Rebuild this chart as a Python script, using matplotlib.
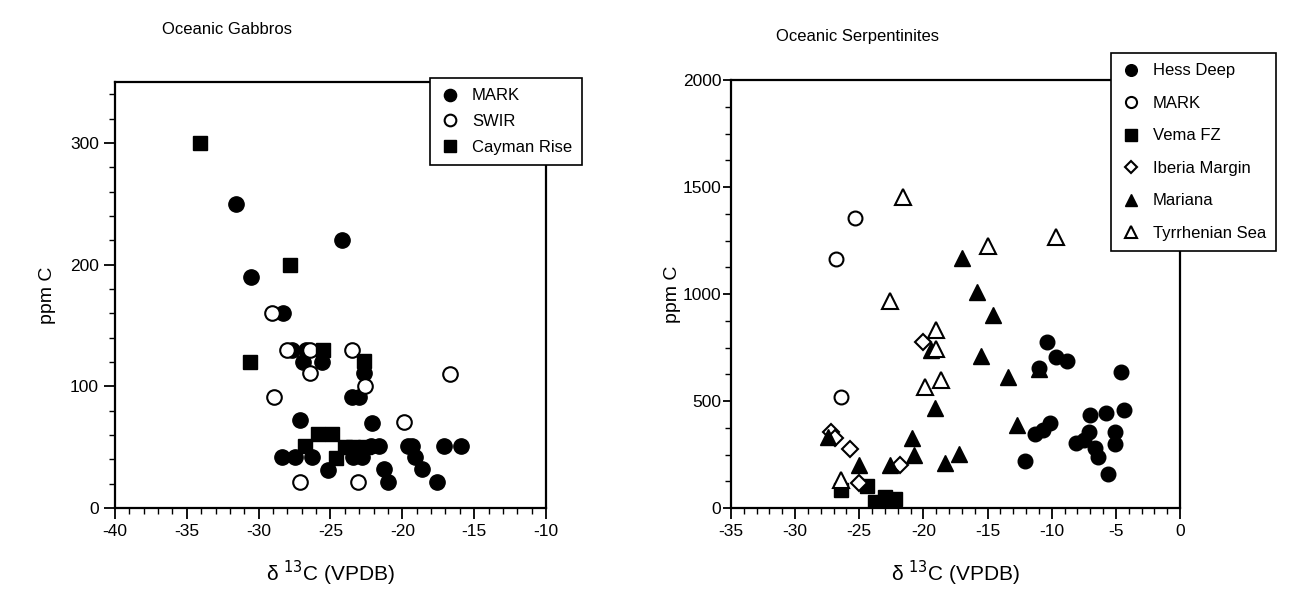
import matplotlib
matplotlib.use("Agg")
import matplotlib.pyplot as plt
from matplotlib.ticker import MultipleLocator

plt.rcParams.update({
    "font.family": ["Liberation Sans", "DejaVu Sans"],
    "font.size": 11,
    "axes.unicode_minus": False,
})

# ---- Oceanic gabbros (d13C, ppm C) ----
gab_mark_x = [-31.6, -30.5, -28.3, -24.2, -27.7, -26.7, -26.9, -25.6, -22.7, -23.5, -23.0,
              -27.1, -22.1, -28.4, -27.5, -26.3, -23.4, -22.8, -25.2, -22.2, -21.6, -19.6,
              -19.3, -17.1, -15.9, -19.1, -18.6, -21.3, -21.0, -17.6]
gab_mark_y = [250, 190, 160, 220, 130, 130, 120, 120, 111, 91, 91,
              72, 70, 42, 42, 42, 42, 42, 31, 51, 51, 51,
              51, 51, 51, 42, 32, 32, 21, 21]
gab_swir_x = [-29.1, -28.0, -26.4, -23.5, -26.4, -22.6, -28.9, -16.7, -19.9, -27.1, -23.1]
gab_swir_y = [160, 130, 130, 130, 111, 100, 91, 110, 71, 21, 21]
gab_cay_x = [-34.1, -27.8, -30.6, -25.5, -22.7, -25.9, -24.9, -26.8, -24.6, -24.0, -23.4, -22.6]
gab_cay_y = [300, 200, 120, 130, 121, 61, 61, 51, 41, 50, 50, 50]

# ---- Oceanic serpentinites ----
ser_hess_x = [-10.4, -9.7, -8.8, -11.0, -4.6, -4.4, -5.8, -7.0, -10.1, -10.7, -11.3, -7.1,
              -5.1, -8.1, -7.5, -6.6, -6.4, -5.1, -12.1, -5.6]
ser_hess_y = [775, 707, 687, 655, 637, 458, 445, 435, 396, 364, 346, 357,
              357, 302, 320, 280, 240, 298, 221, 159]
ser_mark_x = [-25.3, -26.8, -26.4]
ser_mark_y = [1355, 1165, 520]
ser_vema_x = [-26.4, -24.4, -23.8, -23.0, -22.7, -22.2]
ser_vema_y = [85, 105, 30, 50, 30, 40]
ser_iber_x = [-27.2, -26.9, -25.7, -25.0, -21.8, -20.0]
ser_iber_y = [357, 326, 276, 115, 201, 777]
ser_mar_x = [-27.4, -25.0, -22.6, -20.9, -20.7, -19.1, -19.4, -17.0, -15.8, -14.6, -15.5,
             -13.4, -12.7, -11.0, -17.2, -18.3]
ser_mar_y = [333, 201, 201, 326, 248, 466, 738, 1167, 1011, 902, 710,
             614, 388, 650, 252, 209]
ser_tyr_x = [-21.6, -22.6, -15.0, -9.7, -19.0, -19.0, -19.9, -18.6, -26.4]
ser_tyr_y = [1455, 968, 1224, 1268, 832, 743, 564, 598, 130]

W, H = 1292, 601
fig = plt.figure(figsize=(W / 100, H / 100), dpi=100)


def box(l, r, t, b):
    return [l / W, 1 - b / H, (r - l) / W, (b - t) / H]


ax1 = fig.add_axes(box(115, 546, 82, 508))
ax2 = fig.add_axes(box(731, 1180, 80, 508))

filled = dict(ls="none", mfc="black", mec="black", mew=1.0)
opened = dict(ls="none", mfc="white", mec="black", mew=1.5)

ax1.plot(gab_mark_x, gab_mark_y, "o", ms=11, label="MARK", **filled)
ax1.plot(gab_swir_x, gab_swir_y, "o", ms=10.5, label="SWIR", **opened)
ax1.plot(gab_cay_x, gab_cay_y, "s", ms=10, label="Cayman Rise", **filled)

ax2.plot(ser_hess_x, ser_hess_y, "o", ms=10.5, label="Hess Deep", **filled)
ax2.plot(ser_mark_x, ser_mark_y, "o", ms=10, label="MARK", **opened)
ax2.plot(ser_vema_x, ser_vema_y, "s", ms=10, label="Vema FZ", **filled)
ax2.plot(ser_iber_x, ser_iber_y, "D", ms=8, label="Iberia Margin", **opened)
ax2.plot(ser_mar_x, ser_mar_y, "^", ms=11, label="Mariana", **filled)
ax2.plot(ser_tyr_x, ser_tyr_y, "^", ms=11, label="Tyrrhenian Sea", **opened)

ax1.set_xlim(-40, -10)
ax1.set_ylim(0, 350)
ax1.xaxis.set_major_locator(MultipleLocator(5))
ax1.xaxis.set_minor_locator(MultipleLocator(1))
ax1.yaxis.set_major_locator(MultipleLocator(100))
ax1.yaxis.set_minor_locator(MultipleLocator(20))

ax2.set_xlim(-35, 0)
ax2.set_ylim(0, 2000)
ax2.xaxis.set_major_locator(MultipleLocator(5))
ax2.xaxis.set_minor_locator(MultipleLocator(1))
ax2.yaxis.set_major_locator(MultipleLocator(500))
ax2.yaxis.set_minor_locator(MultipleLocator(125))

for ax, pad in ((ax1, 10), (ax2, 1)):
    for sp in ax.spines.values():
        sp.set_linewidth(1.6)
    ax.tick_params(which="major", direction="out", length=8, width=1.3, labelsize=12.5)
    ax.tick_params(which="minor", direction="out", length=4, width=1.0)
    ax.set_xlabel("δ $^{13}$C (VPDB)", fontsize=15, labelpad=14)
    ax.set_ylabel("ppm C", fontsize=14, labelpad=pad)

ax2.tick_params(axis="y", which="major", length=6, pad=1)

fig.text(227 / W, 1 - 30 / H, "Oceanic Gabbros", ha="center", va="center", fontsize=12)
fig.text(857 / W, 1 - 37 / H, "Oceanic Serpentinites", ha="center", va="center", fontsize=12)

leg_kw = dict(frameon=True, fancybox=False, edgecolor="black", framealpha=1,
              fontsize=12, handletextpad=0.7, borderpad=0.6,
              markerscale=0.8, handlelength=1.2)
l1 = ax1.legend(loc="upper left", bbox_to_anchor=(422 / W, 1 - 70 / H),
                bbox_transform=fig.transFigure, labelspacing=0.65, **leg_kw)
l2 = ax2.legend(loc="upper left", bbox_to_anchor=(1103 / W, 1 - 45 / H),
                bbox_transform=fig.transFigure, labelspacing=1.05, **leg_kw)
for lg in (l1, l2):
    lg.get_frame().set_linewidth(1.2)
    lg.set_zorder(10)

fig.savefig("out.png", dpi=100)
